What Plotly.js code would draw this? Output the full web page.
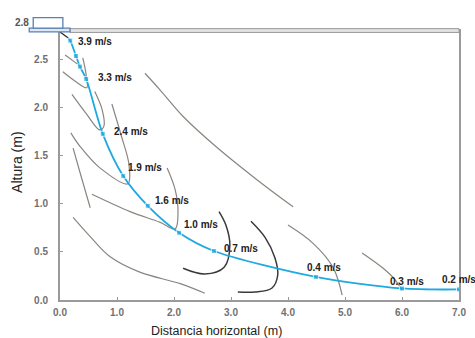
<!DOCTYPE html>
<html>
<head>
<meta charset="utf-8">
<script src="https://cdn.plot.ly/plotly-3.0.1.min.js"></script>
<style>html,body{margin:0;padding:0;background:#fff;}#chart{width:475px;height:338px;}</style>
</head>
<body>
<div id="chart"></div>
<script>
// ---- Data ----
const xTickVals = [0, 1, 2, 3, 4, 5, 6, 7];
const xTickText = ['0.0', '1.0', '2.0', '3.0', '4.0', '5.0', '6.0', '7.0'];
const yTickVals = [0, 0.5, 1.0, 1.5, 2.0, 2.5];
const yTickText = ['0.0', '0.5', '1.0', '1.5', '2.0', '2.5'];

// jet trajectory (blue)
const trajX = [0.14, 0.18, 0.28, 0.35, 0.46, 0.75, 1.11, 1.54, 2.09, 2.70, 4.49, 6.00, 7.00];
const trajY = [2.73, 2.70, 2.54, 2.43, 2.30, 1.73, 1.29, 0.98, 0.70, 0.51, 0.24, 0.12, 0.11];
const trajLabels = ['', '3.9 m/s', '', '', '3.3 m/s', '2.4 m/s', '1.9 m/s', '1.6 m/s', '1.0 m/s', '0.7 m/s', '0.4 m/s', '0.3 m/s', '0.2 m/s'];

// short dark jet exit segment
const exitX = [0.00, 0.14];
const exitY = [2.79, 2.73];

// gray contour lines
const c1X = [0.09, 0.32];                     const c1Y = [2.55, 2.45];
const c2X = [0.05, 0.26, 0.47, 0.46, 0.40];   const c2Y = [2.375, 2.28, 2.21, 2.34, 2.52];
const c3X = [0.21, 0.46, 0.70, 0.77, 0.74, 0.61]; const c3Y = [2.14, 1.94, 1.77, 1.81, 1.98, 2.17];
const c4X = [0.19, 0.35, 0.70, 1.19, 1.21, 1.07, 0.91]; const c4Y = [1.74, 1.60, 1.375, 1.21, 1.41, 1.72, 2.04];
const c5X = [0.23, 0.35, 0.53];               const c5Y = [1.58, 1.33, 0.96];
const c6X = [0.56, 1.23, 1.75, 2.02, 2.07, 2.02, 1.88]; const c6Y = [1.10, 0.92, 0.81, 0.74, 0.92, 1.15, 1.375];
const c7X = [0.23, 0.53, 0.88, 1.40, 2.11, 2.54]; const c7Y = [0.86, 0.66, 0.45, 0.29, 0.17, 0.07];
const c8X = [1.49, 1.75, 2.16, 2.75, 3.46, 4.09]; const c8Y = [2.36, 2.19, 1.91, 1.59, 1.25, 0.97];
const c11X = [4.00, 4.44, 4.79, 4.95];        const c11Y = [0.78, 0.59, 0.34, 0.05];
const c12X = [5.30, 5.67, 5.88, 6.00];        const c12Y = [0.49, 0.33, 0.21, 0.10];
// dark contour lines
const c9X = [2.16, 2.54, 2.88, 2.98, 2.91, 2.79];  const c9Y = [0.33, 0.27, 0.34, 0.57, 0.78, 0.92];
const c10X = [3.35, 3.60, 3.77, 3.82, 3.72, 3.42, 3.12]; const c10Y = [0.82, 0.65, 0.44, 0.26, 0.125, 0.083, 0.083];

// weir geometry (data units)
const boxX = [-0.47, 0.05];  const boxY = [2.83, 2.94];
const plateX = [-0.54, 0.175]; const plateY = [2.79, 2.83];
const channelX = [0.175, 7.0]; const channelY = [2.785, 2.825];
const topLabel = '2.8';

// ---- Styling ----
const X_MAX = 7, Y_MAX = 2.8;
const px = v => v / X_MAX, py = v => v / Y_MAX;
const labelShift = {1:[6,-1],4:[10,2],5:[9,2],6:[3,9],7:[5,5],8:[3,8],9:[8,3],10:[-11,9],11:[-14,7],12:[-19,10]};
const grayLine = {color: '#8a8580', width: 1.2, shape: 'spline'};
const darkLine = {color: '#3a3a3a', width: 1.5, shape: 'spline'};

const grays = [[c1X,c1Y],[c2X,c2Y],[c3X,c3Y],[c4X,c4Y],[c5X,c5Y],[c6X,c6Y],[c7X,c7Y],[c8X,c8Y],[c11X,c11Y],[c12X,c12Y]];
const darks = [[c9X,c9Y],[c10X,c10Y]];
const traces = [];
grays.forEach(([x,y]) => traces.push({x, y, mode:'lines', line: grayLine, hoverinfo:'skip', showlegend:false}));
darks.forEach(([x,y]) => traces.push({x, y, mode:'lines', line: darkLine, hoverinfo:'skip', showlegend:false}));
traces.push({x: exitX, y: exitY, mode:'lines', line:{color:'#222', width:1.2}, showlegend:false, hoverinfo:'skip'});
traces.push({
  x: trajX, y: trajY, mode: 'lines+markers',
  line: {color: '#1ea9e1', width: 1.8, shape: 'spline', smoothing: 0.8},
  marker: {symbol: 'square', size: trajX.map((_, i) => i === 0 ? 0 : 5), color: '#1ea9e1'},
  showlegend: false, hoverinfo: 'skip'
});

const annotations = [];
trajLabels.forEach((t, i) => {
  if (!t) return;
  const s = labelShift[i] || [6, 0];
  annotations.push({x: trajX[i], y: trajY[i], xref:'x', yref:'y', text: t, showarrow:false,
    xanchor:'left', yanchor:'middle', xshift: s[0], yshift: s[1],
    font:{family:'Liberation Sans, Arial, sans-serif', size:10, color:'#222', weight:'bold'}});
});
annotations.push({x: px(-0.67), y: py(2.885), xref:'paper', yref:'paper', text: topLabel, showarrow:false,
  xanchor:'center', yanchor:'middle', font:{family:'Liberation Sans, Arial, sans-serif', size:10, color:'#555', weight:'bold'}});
annotations.push({x: 0.391, y: -0.115, xref:'paper', yref:'paper', text:'Distancia horizontal (m)', showarrow:false,
  xanchor:'center', yanchor:'middle', font:{family:'Liberation Sans, Arial, sans-serif', size:12.5, color:'#222'}});
annotations.push({x: -0.108, y: 0.513, xref:'paper', yref:'paper', text:'Altura (m)', showarrow:false, textangle:-90,
  xanchor:'center', yanchor:'middle', font:{family:'Liberation Sans, Arial, sans-serif', size:14, color:'#222'}});

const shapes = [
  {type:'rect', xref:'paper', yref:'paper', x0:px(channelX[0]), x1:px(channelX[1]), y0:py(channelY[0]), y1:py(channelY[1]),
    fillcolor:'#e2e2e2', line:{color:'#9a9a9a', width:1}},
  {type:'rect', xref:'paper', yref:'paper', x0:px(plateX[0]), x1:px(plateX[1]), y0:py(plateY[0]), y1:py(plateY[1]),
    fillcolor:'#dfe8f3', line:{color:'#5a80b4', width:1.3}},
  {type:'rect', xref:'paper', yref:'paper', x0:px(boxX[0]), x1:px(boxX[1]), y0:py(boxY[0]), y1:py(boxY[1]),
    fillcolor:'#ffffff', line:{color:'#5a80b4', width:1.3}}
];

const tickFont = {family:'Liberation Sans, Arial, sans-serif', size:10, color:'#707070', weight:'bold'};
const layout = {
  width: 475, height: 338,
  margin: {l: 60, r: 16, t: 31, b: 38, pad: 0},
  paper_bgcolor: '#fff', plot_bgcolor: '#fff',
  xaxis: {range:[0, X_MAX], tickvals: xTickVals, ticktext: xTickText, showgrid:false, zeroline:false,
    showline:true, linecolor:'#9a9a9a', linewidth:2, mirror:true, ticks:'inside', ticklen:3, tickcolor:'#9a9a9a',
    tickfont: tickFont, ticklabelstandoff: 2},
  yaxis: {range:[0, Y_MAX], tickvals: yTickVals, ticktext: yTickText, showgrid:false, zeroline:false,
    showline:true, linecolor:'#9a9a9a', linewidth:2, mirror:true, ticks:'inside', ticklen:3, tickcolor:'#9a9a9a',
    tickfont: tickFont, ticklabelstandoff: 8},
  shapes, annotations, showlegend:false
};
Plotly.newPlot('chart', traces, layout, {displayModeBar:false, staticPlot:true});
</script>
</body>
</html>
